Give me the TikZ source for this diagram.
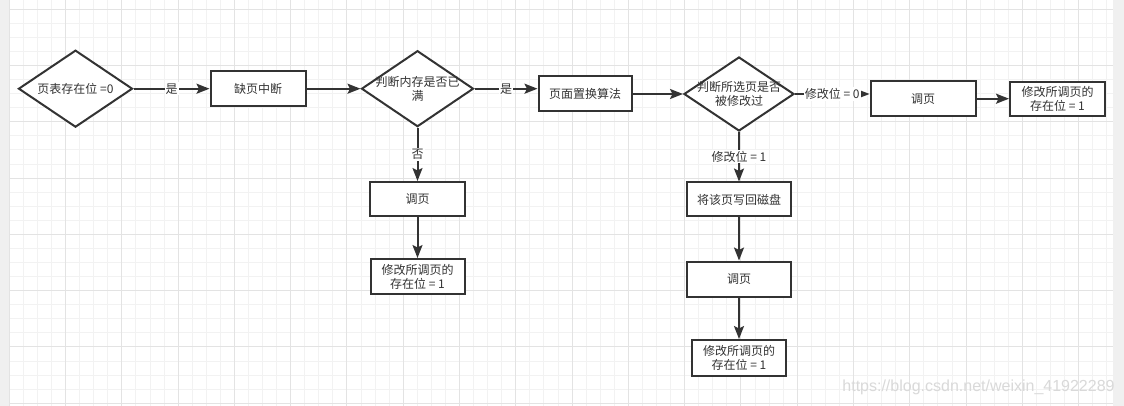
\documentclass[tikz,border=0pt]{standalone}
\usepackage{fontspec}
\newfontfamily\cjk{Noto Sans CJK SC}
\newfontfamily\markfont{Liberation Sans}
\usetikzlibrary{shapes.geometric,arrows.meta}
\definecolor{linegray}{HTML}{333333}
\definecolor{gridminor}{HTML}{F2F2F2}
\definecolor{gridmajor}{HTML}{E3E3E3}
\definecolor{sidegray}{HTML}{F0F0F0}
\definecolor{markgray}{HTML}{D9D9D9}

\begin{document}
\begin{tikzpicture}[x=1pt, y=-1pt,
		>={Stealth[length=13pt, width=10pt, inset=2.5pt]},
		every node/.style={font=\cjk\fontsize{12}{14}\selectfont, text=linegray},
		box/.style={draw=linegray, line width=2pt, fill=white, minimum width=#1, minimum height=35pt, inner sep=0pt, align=center},
		box/.default=95pt,
		dia/.style={draw=linegray, line width=2pt, fill=white, diamond, minimum width=112pt, minimum height=76pt, inner sep=0pt},
		flow/.style={draw=linegray, line width=2pt, ->},
		lbl/.style={fill=white, inner sep=1pt, midway}]
		\useasboundingbox (0,0) rectangle (1124,406);

		\fill[sidegray] (0,0) rectangle (1124,406);
		\fill[white] (9.3,0) rectangle (1113,406);
		\foreach \k in {0,...,78} \draw[gridminor, line width=1pt] (9.3+14.07*\k,0) -- (9.3+14.07*\k,406);
		\foreach \k in {0,...,28} \draw[gridminor, line width=1pt] (9.3,9.3+14.07*\k) -- (1113,9.3+14.07*\k);
		\foreach \k in {0,4,...,76} \draw[gridmajor, line width=1pt] (9.3+14.07*\k,0) -- (9.3+14.07*\k,406);
		\foreach \k in {0,4,...,28} \draw[gridmajor, line width=1pt] (9.3,9.3+14.07*\k) -- (1113,9.3+14.07*\k);

		\node[dia, minimum width=114pt, minimum height=77pt, label={center:页表存在位 =0}] (check) at (75.5,88.7) {};
		\node[box] (fault) at (258,88.7) {缺页中断};
		\node[dia, label={[align=center]center:{判断内存是否已\\满}}] (full) at (417.5,88.7) {};
		\node[box=93pt] (replace) at (585,94) {页面置换算法};
		\node[dia, minimum width=110pt, minimum height=74pt, label={[align=center]center:{判断所选页是否\\被修改过}}] (dirty) at (739,94) {};
		\node[box=105pt] (loadA) at (923,98.7) {调页};
		\node[box, minimum height=34pt] (setA) at (1057.5,98.7) {修改所调页的\\存在位 = 1};
		\node[box, minimum height=34pt] (loadB) at (417.5,199) {调页};
		\node[box=94pt] (setB) at (417.5,276.5) {修改所调页的\\存在位 = 1};
		\node[box=104pt, minimum height=34pt] (write) at (739,199.5) {将该页写回磁盘};
		\node[box=104pt] (loadC) at (739,279) {调页};
		\node[box=94pt, minimum height=36pt] (setC) at (739,358) {修改所调页的\\存在位 = 1};

		\draw[flow] (check) -- (fault) node[lbl]{是};
		\draw[flow] (fault) -- (full);
		\draw[flow] (full.east) -- (full.east -| replace.west) node[lbl]{是};
		\draw[flow] (replace) -- (dirty);
		\draw[flow] (dirty.east) -- (dirty.east -| loadA.west) node[lbl]{修改位 = 0};
		\draw[flow] (loadA) -- (setA);
		\draw[flow] (full) -- (loadB) node[lbl]{否};
		\draw[flow] (loadB) -- (setB);
		\draw[flow] (dirty) -- (write) node[lbl]{修改位 = 1};
		\draw[flow] (write) -- (loadC);
		\draw[flow] (loadC) -- (setC);

		\node[font=\markfont\fontsize{16}{16}\selectfont, text=markgray] (mark) at (978.5,387.3) {https://blog.csdn.net/weixin\_41922289};
	\end{tikzpicture}
\end{document}
